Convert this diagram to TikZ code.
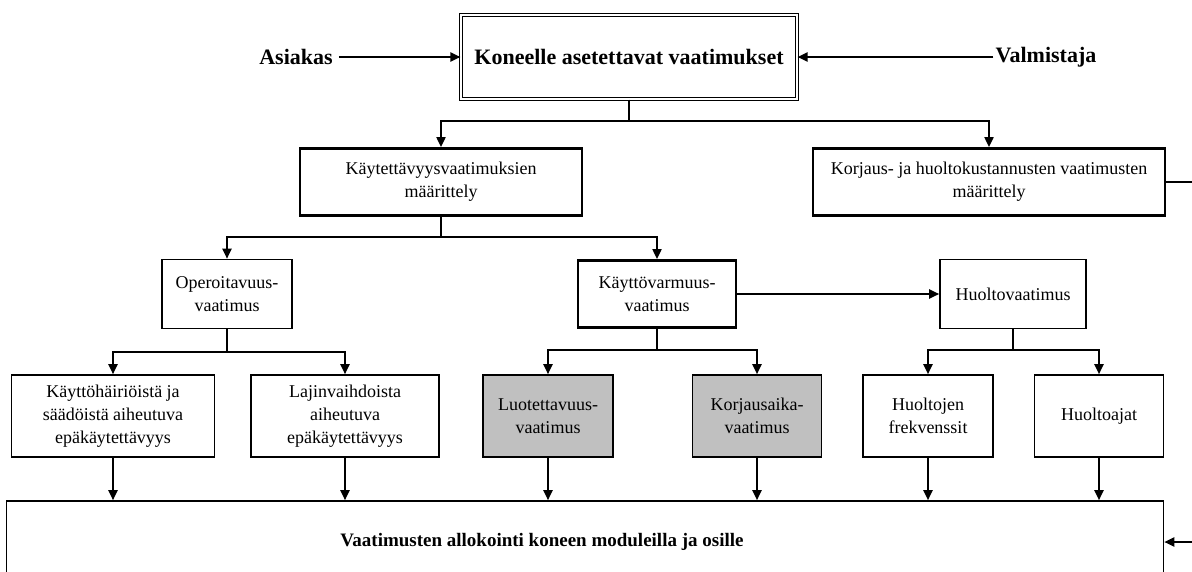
\documentclass[tikz,border=0pt]{standalone}
\usepackage{fontspec}
\setmainfont{Liberation Serif}
\usetikzlibrary{arrows.meta}
\definecolor{boxgray}{RGB}{192,192,192}

\tikzset{
  box/.style={draw, line width=1.6pt, align=center, inner sep=2pt,
    font=\fontsize{18}{23}\selectfont},
  mainbox/.style={box, line width=2.8pt},
  graybox/.style={box, fill=boxgray},
  topbox/.style={draw, double, double distance=2.5pt, line width=1.1pt,
    font=\fontsize{22}{26}\selectfont\bfseries},
  lbl/.style={font=\fontsize{22}{26}\selectfont\bfseries, inner sep=6pt},
  conn/.style={line width=2pt},
  arr/.style={conn, -{Triangle[length=10pt,width=9pt]}}
}

\begin{document}
\begin{tikzpicture}[x=1pt,y=-1pt]
  \useasboundingbox (0,0) rectangle (1192,571);
  \clip (0,0) rectangle (1192,571);

  % top
  \node[topbox, minimum width=336, minimum height=84] (need) at (629,57) {Koneelle asetettavat vaatimukset};
  \node[lbl] (asiakas) at (296,57) {Asiakas};
  \node[lbl, inner sep=2pt] (valm) at (1046,57) {Valmistaja};
  \draw[arr] (asiakas.east) -- (need.west);
  \draw[arr] (valm.west) -- (need.east);

  % level 1
  \node[mainbox, minimum width=282, minimum height=67] (kaytt) at (441,182) {Käytettävyysvaatimuksien\\määrittely};
  \node[mainbox, minimum width=352, minimum height=67] (korj) at (989,182) {Korjaus- ja huoltokustannusten vaatimusten\\määrittely};

  % level 2
  \node[box, minimum width=130, minimum height=69] (oper) at (227,294) {Operoitavuus-\\vaatimus};
  \node[mainbox, minimum width=158, minimum height=67] (kvarm) at (657,294) {Käyttövarmuus-\\vaatimus};
  \node[box, minimum width=146, minimum height=69] (huolto) at (1013,294) {Huoltovaatimus};

  % level 3
  \node[box, minimum width=203, minimum height=82] (hairio) at (113,416) {Käyttöhäiriöistä ja\\säädöistä aiheutuva\\epäkäytettävyys};
  \node[box, minimum width=188, minimum height=82] (lajin) at (345,416) {Lajinvaihdoista\\aiheutuva\\epäkäytettävyys};
  \node[graybox, minimum width=130, minimum height=82] (luot) at (548,416) {Luotettavuus-\\vaatimus};
  \node[graybox, minimum width=129, minimum height=82] (korjaika) at (757,416) {Korjausaika-\\vaatimus};
  \node[box, minimum width=130, minimum height=82] (frek) at (928,416) {Huoltojen\\frekvenssit};
  \node[box, minimum width=129, minimum height=82] (ajat) at (1099,416) {Huoltoajat};

  \node[box, minimum width=1157, minimum height=82] (alloc) at (585,542) {};
  \node[font=\fontsize{19}{23}\selectfont\bfseries] (alloctxt) at (542,542) {Vaatimusten allokointi koneen moduleilla ja osille};

  % connectors
  \draw[conn] (need.south) -- ++(0,21) coordinate (b0);
  \draw[arr] (b0) -| (kaytt.north);
  \draw[arr] (b0) -| (korj.north);
  \draw[conn] (kaytt.south) -- ++(0,20) coordinate (b1);
  \draw[arr] (b1) -| (oper.north);
  \draw[arr] (b1) -| (kvarm.north);
  \draw[arr] (kvarm.east) -- (huolto.west);
  \draw[conn] (oper.south) -- ++(0,23) coordinate (b2);
  \draw[arr] (b2) -| (hairio.north);
  \draw[arr] (b2) -| (lajin.north);
  \draw[conn] (kvarm.south) -- ++(0,21) coordinate (b3);
  \draw[arr] (b3) -| (luot.north);
  \draw[arr] (b3) -| (korjaika.north);
  \draw[conn] (huolto.south) -- ++(0,21) coordinate (b4);
  \draw[arr] (b4) -| (frek.north);
  \draw[arr] (b4) -| (ajat.north);
  \foreach \n in {hairio,lajin,luot,korjaika,frek,ajat}
    \draw[arr] (\n.south) -- (\n.south |- alloc.north);
  \draw[arr] (korj.east) -- ++(60,0) |- (alloc.east);
\end{tikzpicture}
\end{document}
